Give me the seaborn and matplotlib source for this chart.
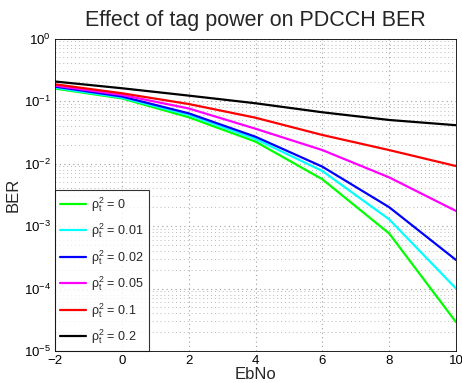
import matplotlib
matplotlib.use("Agg")
import matplotlib.pyplot as plt
import seaborn as sns
import pandas as pd
import numpy as np
from matplotlib.ticker import LogLocator, NullFormatter

sns.set_style("white")
plt.rcParams['font.family'] = ['Liberation Sans', 'DejaVu Sans']
plt.rcParams['mathtext.fontset'] = 'custom'
plt.rcParams['mathtext.rm'] = 'Liberation Sans'
plt.rcParams['mathtext.it'] = 'Liberation Sans'

ebno = [-2, 0, 2, 4, 6, 8, 10]
labels = [r"$\mathregular{\rho_t^2}$ = 0", r"$\mathregular{\rho_t^2}$ = 0.01",
          r"$\mathregular{\rho_t^2}$ = 0.02", r"$\mathregular{\rho_t^2}$ = 0.05",
          r"$\mathregular{\rho_t^2}$ = 0.1", r"$\mathregular{\rho_t^2}$ = 0.2"]
colors = ["#00ff00", "#00ffff", "#0000ff", "#ff00ff", "#ff0000", "#000000"]
ber_p0 = [0.158, 0.110, 0.055, 0.0224, 0.0056, 0.00076, 2.9e-5]
ber_p001 = [0.163, 0.113, 0.060, 0.0247, 0.0076, 0.00128, 1.0e-4]
ber_p002 = [0.170, 0.118, 0.0635, 0.0268, 0.0089, 0.0020, 2.86e-4]
ber_p005 = [0.176, 0.125, 0.076, 0.036, 0.0164, 0.0060, 0.00174]
ber_p01 = [0.185, 0.133, 0.0895, 0.054, 0.0286, 0.0164, 0.0091]
ber_p02 = [0.205, 0.160, 0.122, 0.092, 0.066, 0.0497, 0.041]
series = [ber_p0, ber_p001, ber_p002, ber_p005, ber_p01, ber_p02]

rows = []
for lab, vals in zip(labels, series):
    for x, v in zip(ebno, vals):
        rows.append({"EbNo": x, "BER": v, "series": lab})
df = pd.DataFrame(rows)

fig = plt.figure(figsize=(4.62, 3.83), dpi=100)
ax = fig.add_axes([55/462, 1-351/383, (456-55)/462, (351-38.5)/383])
sns.lineplot(data=df, x="EbNo", y="BER", hue="series", hue_order=labels,
             palette=dict(zip(labels, colors)), linewidth=1.6, ax=ax, sort=False)
ax.set_yscale("log")
ax.set_xlim(-2, 10)
ax.set_ylim(1e-5, 1)
ax.set_xticks([-2, 0, 2, 4, 6, 8, 10])
ax.set_xticklabels(["\u22122", "0", "2", "4", "6", "8", "10"])
ax.yaxis.set_major_locator(LogLocator(base=10, numticks=10))
ax.yaxis.set_minor_locator(LogLocator(base=10, subs=np.arange(2, 10), numticks=10))
ax.yaxis.set_minor_formatter(NullFormatter())
ax.grid(True, which="major", axis="both", linestyle=(0, (1, 3)), color="#a0a0a0", linewidth=0.8)
ax.grid(True, which="minor", axis="y", linestyle=(0, (1, 3)), color="#b8b8b8", linewidth=0.7)
ax.tick_params(axis="both", which="both", direction="in", labelsize=9.5, colors="black", pad=3)
ax.tick_params(axis="both", which="major", length=4, width=0.6)
ax.tick_params(axis="y", which="minor", length=2, width=0.5)
for s in ax.spines.values():
    s.set_color("black")
    s.set_linewidth(0.6)
ax.set_title("Effect of tag power on PDCCH BER", fontsize=15.5, pad=9)
ax.set_xlabel("EbNo", fontsize=12, labelpad=0)
ax.set_ylabel("BER", fontsize=12, labelpad=2)
leg = ax.legend(loc="lower left", fontsize=9, frameon=True, fancybox=False,
                borderaxespad=0, handlelength=2.1, labelspacing=0.62,
                borderpad=0.4, handletextpad=0.4)
leg.get_frame().set_edgecolor("black")
leg.get_frame().set_linewidth(0.8)
fig.savefig("out.png", dpi=100)
